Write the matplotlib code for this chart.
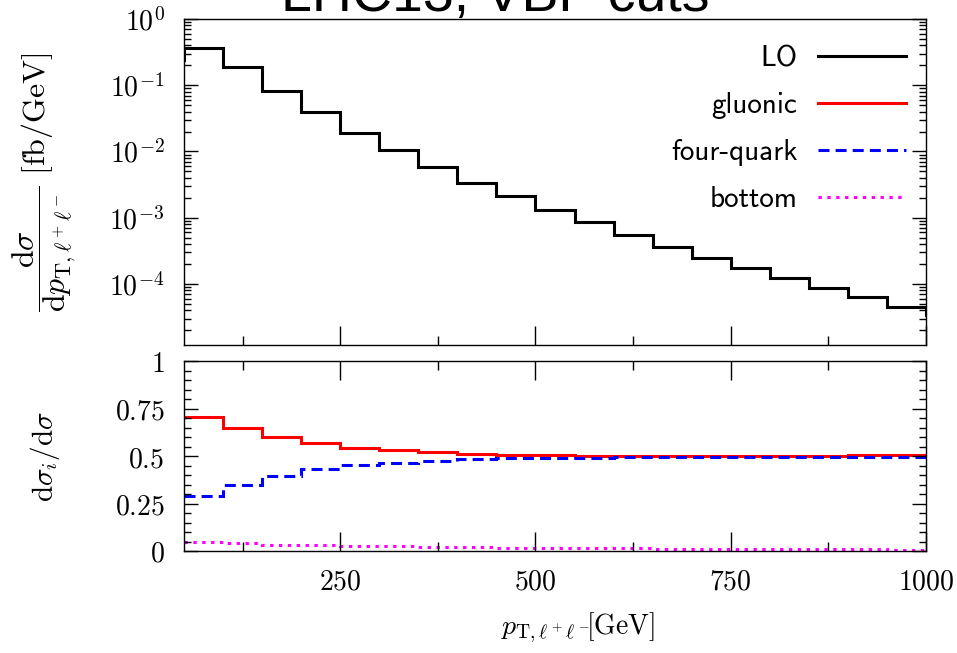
import os
import numpy as np
import matplotlib
matplotlib.use('Agg')
import matplotlib.pyplot as plt
from matplotlib.font_manager import FontProperties
from matplotlib.ticker import MultipleLocator, FixedLocator, FuncFormatter, LogLocator, NullFormatter

# bin edges in GeV (LO has one extra bin on each side, clipped by the axis)
lo_edges = [0, 50, 100, 150, 200, 250, 300, 350, 400, 450, 500, 550, 600, 650,
            700, 750, 800, 850, 900, 950, 1000, 1050]
lo = [0.24, 0.36, 0.187, 0.082, 0.039, 0.0192, 0.0105, 0.0058, 0.0034, 0.0021,
      0.00129, 0.00085, 0.00054, 0.00036, 0.000246, 0.000173, 0.000123,
      0.000087, 0.000063, 0.0000457, 0.000034]

ratio_edges = [50, 100, 150, 200, 250, 300, 350, 400, 450, 500, 550, 600, 650,
               700, 750, 800, 850, 900, 950, 1000]
gluonic = [0.705, 0.646, 0.598, 0.567, 0.544, 0.530, 0.519, 0.511, 0.505,
           0.503, 0.502, 0.502, 0.502, 0.502, 0.502, 0.502, 0.502, 0.503, 0.504]
fourquark = [0.291, 0.349, 0.396, 0.432, 0.451, 0.465, 0.476, 0.484, 0.489,
             0.491, 0.492, 0.493, 0.493, 0.494, 0.494, 0.494, 0.494, 0.494, 0.494]
bottom = [0.046, 0.040, 0.033, 0.030, 0.026, 0.024, 0.022, 0.020, 0.018,
          0.016, 0.015, 0.014, 0.013, 0.012, 0.011, 0.010, 0.009, 0.008, 0.007]

labels = ['LO', 'gluonic', 'four-quark', 'bottom']
colors = ['black', '#ff0000', '#0000ff', '#ff00ff']

plt.rcParams['mathtext.fontset'] = 'cm'
sans = FontProperties(fname=os.path.join(matplotlib.get_data_path(), 'fonts', 'ttf', 'cmss10.ttf'), size=21)

W, H = 957, 653
fig = plt.figure(figsize=(W / 100, H / 100), dpi=100)
ax1 = fig.add_axes([184 / W, 1 - 345 / H, 742 / W, 326 / H])
ax2 = fig.add_axes([184 / W, 1 - 551 / H, 742 / W, 190 / H])

lw = 2.2
h_lo = ax1.stairs(lo, lo_edges, color=colors[0], lw=lw, baseline=None)
h_g = ax2.stairs(gluonic, ratio_edges, color=colors[1], lw=lw, baseline=None)
h_f = ax2.stairs(fourquark, ratio_edges, color=colors[2], lw=lw, baseline=None, linestyle=(0, (3.6, 2.0)))
h_b = ax2.stairs(bottom, ratio_edges, color=colors[3], lw=lw, baseline=None, linestyle=(0, (1.1, 1.8)))

ax1.set_yscale('log')
ax1.set_ylim(1.2e-5, 1)
for ax in (ax1, ax2):
    ax.set_xlim(50, 1000)
    ax.xaxis.set_major_locator(MultipleLocator(250))
    ax.xaxis.set_minor_locator(MultipleLocator(125))
    for s in ax.spines.values():
        s.set_linewidth(1.0)
    ax.tick_params(which='both', direction='in', left=True, right=True, bottom=True, labelsize=20)
    ax.tick_params(axis='x', which='major', length=13.5, width=1.0, pad=12)
    ax.tick_params(axis='x', which='minor', length=6.5, width=1.0)
    ax.tick_params(axis='y', which='major', length=10, width=1.0, pad=14)
    ax.tick_params(axis='y', which='minor', length=5, width=1.0)

ax1.tick_params(which='both', top=False, labelbottom=False)
ax2.tick_params(which='both', top=True)

ax1.yaxis.set_major_locator(LogLocator(base=10, numticks=10))
ax1.yaxis.set_minor_locator(LogLocator(base=10, subs=np.arange(2, 10), numticks=20))
ax1.yaxis.set_minor_formatter(NullFormatter())
ax1.yaxis.set_major_formatter(FuncFormatter(lambda v, p: r'$10^{%d}$' % round(np.log10(v))))

ax2.set_ylim(0, 1)
ax2.yaxis.set_major_locator(FixedLocator([0, 0.25, 0.5, 0.75, 1]))
ax2.yaxis.set_minor_locator(MultipleLocator(0.05))
ax2.yaxis.set_major_formatter(FuncFormatter(lambda v, p: '$%g$' % v))
ax2.xaxis.set_major_formatter(FuncFormatter(lambda v, p: '$%d$' % v))

ax1.set_ylabel(r'$\dfrac{\mathrm{d}\sigma}{\mathrm{d}p_{\mathrm{T},\ell^+\ell^-}}\ [\mathrm{fb/GeV}]$',
               fontsize=23, va='center')
ax1.yaxis.set_label_coords((44 - 184) / 742, 0.5)
ax2.set_ylabel(r'$\mathrm{d}\sigma_i/\mathrm{d}\sigma$', fontsize=21, va='center')
ax2.yaxis.set_label_coords((45 - 184) / 742, 0.5)
ax2.set_xlabel(r'$p_{\mathrm{T},\ell^+\ell^-}\!\![\mathrm{GeV}]$', fontsize=20, va='center')
ax2.xaxis.set_label_coords((578 - 184) / 742, -(628 - 551) / 190)

leg = ax1.legend([h_lo, h_g, h_f, h_b], labels, loc='upper right', bbox_to_anchor=(0.973, 0.92),
                 frameon=False, markerfirst=False, prop=sans, handlelength=3.0,
                 handletextpad=0.72, labelspacing=0.69, borderpad=0, borderaxespad=0)

fig.text(495 / W, 1 - 11 / H, 'LHC13, VBF cuts', fontsize=40, family='Liberation Sans',
         ha='center', va='baseline')

fig.savefig('out.png', dpi=100)
